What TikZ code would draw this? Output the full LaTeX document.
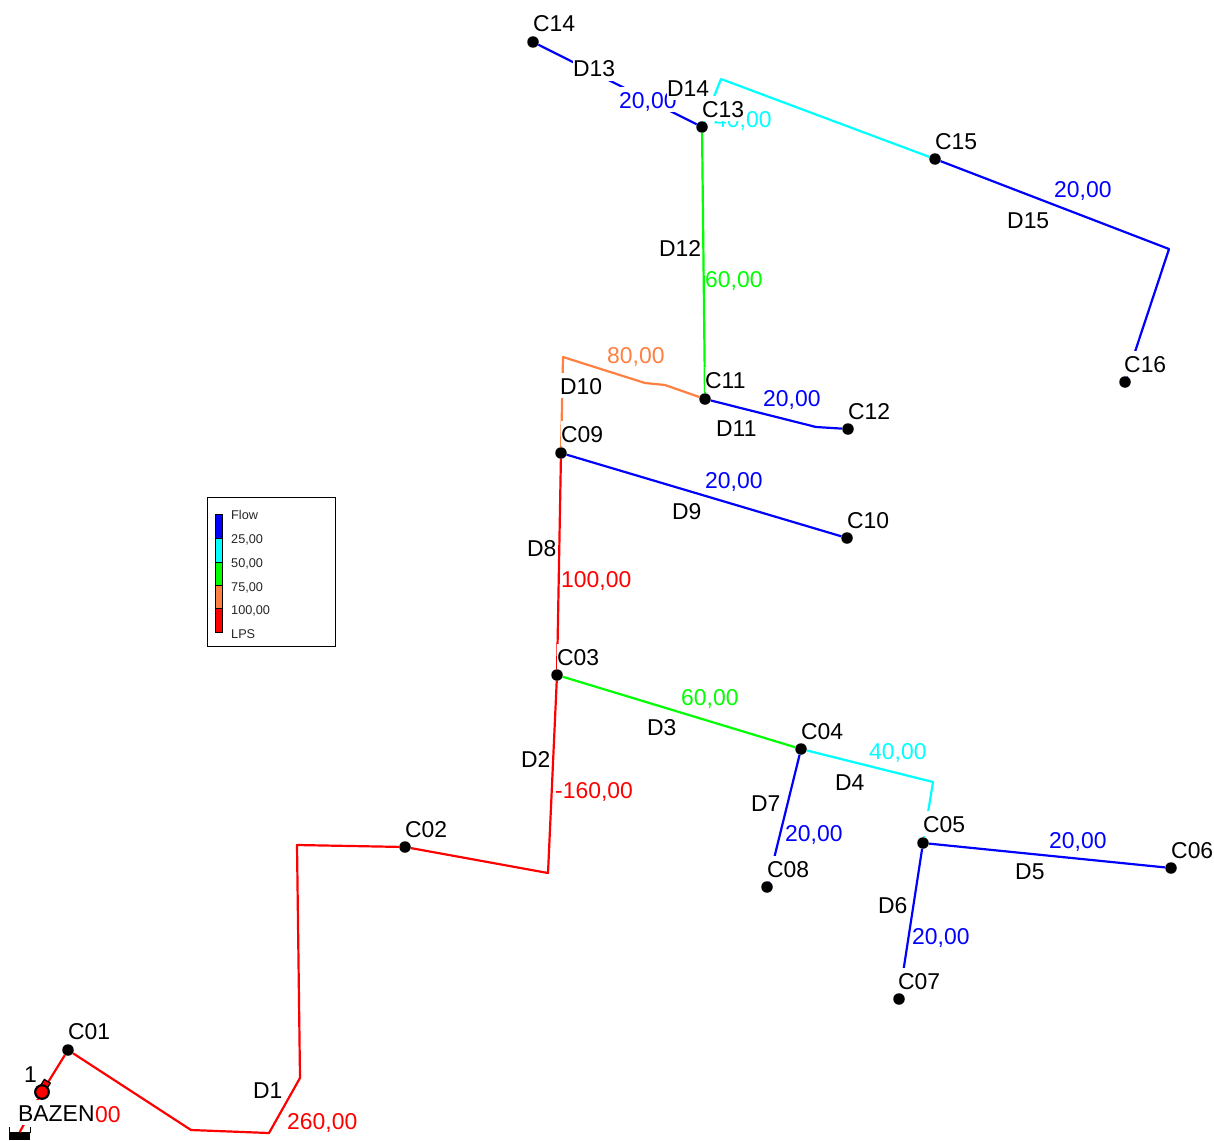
\documentclass[tikz,border=0pt]{standalone}
\usepackage{fontspec}
\setmainfont{Liberation Sans}
\definecolor{pblue}{RGB}{0,0,255}
\definecolor{pcyan}{RGB}{0,255,255}
\definecolor{pgreen}{RGB}{0,255,0}
\definecolor{porange}{RGB}{255,128,64}
\definecolor{pred}{RGB}{255,0,0}
\tikzset{
 junction/.style={circle,fill=black,draw=none,inner sep=0pt,minimum size=11.5pt},
 pipe/.style={line width=2.2pt,line join=round},
 lab/.style={anchor=base west,fill=white,inner sep=0pt,text height=21.5pt,text depth=3.5pt,font=\fontsize{22.9}{24}\selectfont},
 legtext/.style={anchor=base west,inner sep=0pt,font=\fontsize{12.7}{14}\selectfont,text=black!85},
 legseg/.style={draw=black,line width=0.8pt},
}
\begin{document}
\begin{tikzpicture}[x=1pt,y=-1pt]
\useasboundingbox (0,0) rectangle (1214,1140);
% junctions
\foreach \n/\x/\y in {c01/68/1050,c02/405/847,c03/557/675,c04/801/749,c05/923/843,c06/1171/868,c07/899/999,c08/767/887,c09/561/453,c10/847/538,c11/705/399,c12/848/429,c13/702/127,c14/533/42,c15/935/159,c16/1125/382}
  \node[junction] (\n) at (\x,\y) {};
% reservoir and tank
\node[circle,fill=pred,draw=black,line width=2pt,inner sep=0pt,minimum size=13.5pt] (tank) at (42,1092) {};
\node[fill=black,inner sep=0pt,minimum width=21pt,minimum height=8pt,anchor=north west] (res) at (9,1132) {};
\coordinate (resL) at (9,1127); \coordinate (resLb) at (9,1133);
\coordinate (resR) at (30,1127); \coordinate (resRb) at (30,1133);
\draw[line width=1pt] (resL) -- (resLb) (resR) -- (resRb);
% bends
\foreach \n/\x/\y in {a1/191/1130,a2/269/1133,a3/300/1078,a4/297/845,b1/548/873,d1/933/782,e1/563/357,e2/645/383,e3/665/385,f1/816/427,g1/721/79,h1/1169/249}
  \coordinate (\n) at (\x,\y);
% pipes
\draw[pipe,pred] (tank) -- (res.north);
\draw[pipe,pred] (tank) -- (c01);
\draw[pipe,pred] (c01) -- (a1) -- (a2) -- (a3) -- (a4) -- (c02);
\draw[pipe,pred] (c02) -- (b1) -- (c03);
\draw[pipe,pred] (c03) -- (c09);
\draw[pipe,pgreen] (c03) -- (c04);
\draw[pipe,pcyan] (c04) -- (d1) -- (c05);
\draw[pipe,pblue] (c05) -- (c06);
\draw[pipe,pblue] (c05) -- (c07);
\draw[pipe,pblue] (c04) -- (c08);
\draw[pipe,pblue] (c09) -- (c10);
\draw[pipe,porange] (c09) -- (e1) -- (e2) -- (e3) -- (c11);
\draw[pipe,pblue] (c11) -- (f1) -- (c12);
\draw[pipe,pgreen] (c11) -- (c13);
\draw[pipe,pblue] (c13) -- (c14);
\draw[pipe,pcyan] (c13) -- (g1) -- (c15);
\draw[pipe,pblue] (c15) -- (h1) -- (c16);
% pump mark, then the tank symbol again on top of it
\node[rotate=-32,fill=pred,draw=black,line width=1.3pt,inner sep=0pt,minimum width=7pt,minimum height=10pt] (pumpmark) at (44.7,1085.5) {};
\node[circle,fill=pred,draw=black,line width=2pt,inner sep=0pt,minimum size=13.5pt] (tanktop) at (tank) {};
% flow labels
\foreach \t/\c/\x/\y [count=\i] in {
 {20,00}/pblue/619/108,{40,00}/pcyan/714/127,{20,00}/pblue/1054/197,{60,00}/pgreen/705/287,
 {80,00}/porange/607/363,{20,00}/pblue/763/406,{20,00}/pblue/705/488,{100,00}/pred/561/587,
 {60,00}/pgreen/681/705,{40,00}/pcyan/869/759,{-160,00}/pred/555/798,{20,00}/pblue/1049/848,
 {20,00}/pblue/785/841,{20,00}/pblue/912/944,{260,00}/pred/287/1129,{00}/pred/95/1122}
  \node[lab,text=\c] (flow\i) at (\x,\y) {\t};
% black labels
\foreach \t/\x/\y in {
 C14/533/31.5,C13/702/117,D13/573/77,D14/667/96,C15/935/149,D15/1007/228,C16/1124/372,D12/659/256,
 D10/560/394,C11/705/388,C12/848/419,D11/716/436,C09/561/442,D9/672/519,C10/847/528,D8/527/556,
 C03/557/665,D3/647/735,C04/801/739,D4/835/790,D2/521/767,C05/923/832,C06/1171/858,D5/1015/879,
 D7/751/811,C08/767/877,D6/878/913,C07/898/989,C02/405/837,D1/253/1098,C01/68/1039,1/24/1082,BAZEN/18/1121}
  \node[lab,text=black] (name\t) at (\x,\y) {\t};
% legend
\node[draw=black,line width=0.8pt,inner sep=0pt,minimum width=128pt,minimum height=149pt,anchor=north west] (legend) at (206.7,497) {};
\foreach \c/\a/\b in {pblue/514/538,pcyan/538/562,pgreen/562/585,porange/585/608,pred/608/632}
  \fill[\c] (215,\a) rectangle (222,\b);
\draw[legseg] (215,514) rectangle (222,632);
\foreach \yy in {538,562,585,608} \draw[legseg] (215,\yy) -- (222,\yy);
\foreach \t/\y/\n in {Flow/519/a,{25,00}/543/b,{50,00}/567/c,{75,00}/591/d,{100,00}/614/e,LPS/638/f}
  \node[legtext] (leg\n) at (231,\y) {\t};
\end{tikzpicture}
\end{document}
